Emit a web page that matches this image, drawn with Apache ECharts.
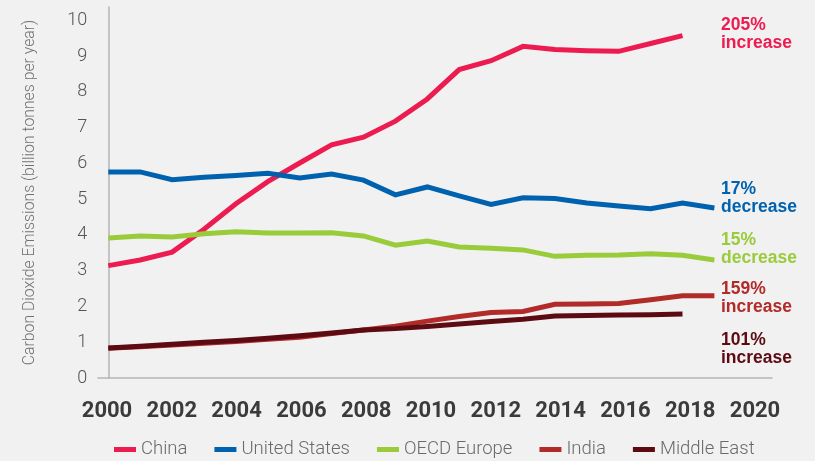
<!DOCTYPE html>
<html>
<head>
<meta charset="utf-8">
<script src="https://cdn.jsdelivr.net/npm/echarts@6/dist/echarts.min.js"></script>
<style>
  html, body { margin: 0; padding: 0; background: #f1f1f1; }
  #chart { width: 815px; height: 461px; }
</style>
</head>
<body>
<div id="chart"></div>
<script>
// Annual CO2 emissions by region, billion tonnes per year
const years = [2000, 2001, 2002, 2003, 2004, 2005, 2006, 2007, 2008, 2009,
               2010, 2011, 2012, 2013, 2014, 2015, 2016, 2017, 2018, 2019];
const china = [3.14, 3.30, 3.52, 4.16, 4.87, 5.49, 6.01, 6.52, 6.73, 7.18,
               7.80, 8.62, 8.87, 9.27, 9.18, 9.15, 9.13, 9.35, 9.57];
const unitedStates = [5.76, 5.76, 5.54, 5.61, 5.66, 5.72, 5.59, 5.70, 5.53, 5.12,
                      5.34, 5.09, 4.85, 5.04, 5.02, 4.89, 4.81, 4.73, 4.89, 4.75];
const oecdEurope = [3.91, 3.97, 3.94, 4.03, 4.09, 4.05, 4.05, 4.06, 3.97, 3.71,
                    3.83, 3.66, 3.63, 3.58, 3.40, 3.43, 3.44, 3.47, 3.43, 3.30];
const india = [0.83, 0.87, 0.92, 0.97, 1.02, 1.08, 1.14, 1.24, 1.34, 1.45,
               1.59, 1.72, 1.83, 1.86, 2.06, 2.07, 2.08, 2.19, 2.30, 2.30];
const middleEast = [0.84, 0.89, 0.94, 1.00, 1.05, 1.11, 1.18, 1.26, 1.34, 1.38,
                    1.44, 1.51, 1.58, 1.64, 1.73, 1.75, 1.76, 1.77, 1.79];

const seriesNames = ['China', 'United States', 'OECD Europe', 'India', 'Middle East'];
const seriesColors = ['#ec1c51', '#0062ae', '#9acb3b', '#b12b29', '#5d0b13'];
const seriesValues = [china, unitedStates, oecdEurope, india, middleEast];
const changeLabels = [['205%', 'increase'], ['17%', 'decrease'], ['15%', 'decrease'],
                      ['159%', 'increase'], ['101%', 'increase']];
const changeLabelTops = [16, 180, 231, 280, 331];

const yTitle = 'Carbon Dioxide Emissions (billion tonnes per year)';

const chart = echarts.init(document.getElementById('chart'), null, { renderer: 'canvas' });

const lightFont = 'Roboto, "Noto Sans", sans-serif';

const option = {
  backgroundColor: '#f1f1f1',
  animation: false,
  grid: [
    // plotting area
    { left: 108.3, right: 68.7, top: 7, bottom: 83 },
    // year labels
    { left: 107, right: 60, top: 7, bottom: 83 },
    // baseline rule
    { left: 98, right: 43, top: 7, bottom: 83 }
  ],
  xAxis: [
    { gridIndex: 0, type: 'value', min: 2000, max: 2020, show: false },
    {
      gridIndex: 1, type: 'value', min: 2000, max: 2020, interval: 2,
      axisLine: { show: false }, axisTick: { show: false }, splitLine: { show: false },
      axisLabel: {
        margin: 22,
        showMinLabel: true,
        showMaxLabel: true,
        hideOverlap: false,
        formatter: v => String(v),
        color: '#3b3b3b',
        fontFamily: 'Roboto, sans-serif',
        fontWeight: 'bold',
        fontSize: 22
      }
    },
    {
      gridIndex: 2, type: 'value', min: 0, max: 1,
      axisLine: { show: true, lineStyle: { color: '#b5b5b5', width: 1.5 } },
      axisTick: { show: false }, axisLabel: { show: false }, splitLine: { show: false }
    }
  ],
  yAxis: [
    {
      gridIndex: 0, type: 'value', min: 0, max: 10.37, interval: 1,
      name: yTitle,
      nameLocation: 'middle',
      nameRotate: 90,
      nameGap: 70,
      nameTextStyle: { color: '#707070', fontFamily: lightFont, fontWeight: 300, fontSize: 15.8 },
      axisLine: { show: true, lineStyle: { color: '#b5b5b5', width: 1.5 } },
      axisTick: { show: false },
      splitLine: { show: false },
      axisLabel: {
        showMaxLabel: false,
        margin: 21,
        color: '#555555',
        fontFamily: lightFont,
        fontWeight: 300,
        fontSize: 18
      }
    },
    { gridIndex: 1, type: 'value', min: 0, max: 10, show: false },
    { gridIndex: 2, type: 'value', min: 0, max: 1, show: false }
  ],
  legend: {
    top: 440,
    left: 114,
    padding: 0,
    icon: 'rect',
    itemWidth: 22,
    itemHeight: 5,
    itemGap: 27,
    textStyle: { color: '#6a6a6a', fontFamily: lightFont, fontWeight: 300, fontSize: 18.5 },
    data: seriesNames
  },
  series: seriesNames.map((name, i) => ({
    name: name,
    type: 'line',
    xAxisIndex: 0,
    yAxisIndex: 0,
    data: seriesValues[i].map((v, j) => [years[j], v]),
    showSymbol: false,
    lineStyle: { color: seriesColors[i], width: 5, join: 'miter' },
    itemStyle: { color: seriesColors[i] },
    z: 2 + i
  })),
  graphic: changeLabels.map((lines, i) => ({
    type: 'text',
    left: 721,
    top: changeLabelTops[i],
    style: {
      text: lines.join('\n'),
      fill: seriesColors[i],
      font: 'bold 17.5px "Liberation Sans", Arial, sans-serif',
      lineHeight: 18
    }
  }))
};

chart.setOption(option);
</script>
</body>
</html>
